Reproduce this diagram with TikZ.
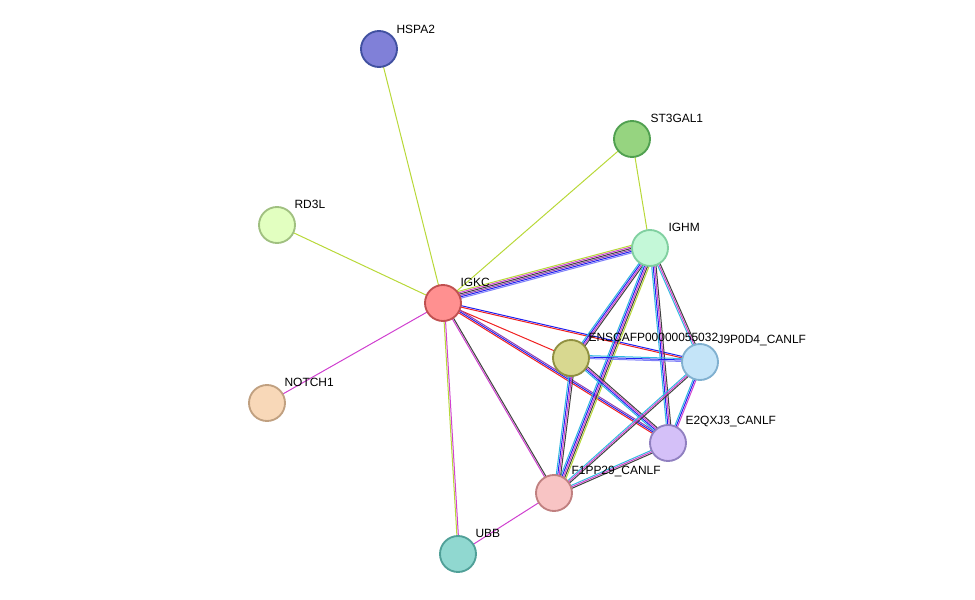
\documentclass[tikz,border=0pt]{standalone}
\usepackage{fontspec}
\setmainfont{Liberation Sans}
\usetikzlibrary{calc}
\definecolor{yg}{HTML}{B8D838}
\definecolor{mg}{HTML}{D040D0}
\definecolor{bl}{HTML}{2020F0}
\definecolor{lb}{HTML}{8080F8}
\definecolor{cy}{HTML}{30B8E0}
\definecolor{rd}{HTML}{F02020}
\definecolor{bk}{HTML}{404040}
\definecolor{pu}{HTML}{9040B0}
\tikzset{prot/.style={circle,minimum size=27bp,inner sep=0,line width=1.4pt},
lbl/.style={font=\fontsize{9}{10}\selectfont,anchor=south west,inner sep=1pt}}
\newcommand\medge[3]{%
 \foreach \c [count=\i] in {#3}{%
  \pgfmathsetmacro\o{(\i-1)*1.1}%
  \draw[\c,line width=0.75pt] ($(#1)!\o pt!90:(#2)$) -- ($(#2)!\o pt!-90:(#1)$);}}
\begin{document}
\begin{tikzpicture}[x=0.75bp,y=-0.75bp]
\useasboundingbox (0,0) rectangle (975,600);
\coordinate (hspa) at (379,49);
\coordinate (st3) at (632,139);
\coordinate (rd3) at (277,225);
\coordinate (ighm) at (650,248);
\coordinate (igkc) at (443,303);
\coordinate (ens) at (571,358);
\coordinate (j9) at (700,362);
\coordinate (notch) at (267,403);
\coordinate (e2) at (668,443);
\coordinate (f1) at (554,493);
\coordinate (ubb) at (458,554);
\medge{hspa}{igkc}{yg}
\medge{st3}{igkc}{yg}
\medge{st3}{ighm}{yg}
\medge{rd3}{igkc}{yg}
\medge{notch}{igkc}{mg}
\medge{igkc}{ubb}{yg,mg}
\medge{ubb}{f1}{mg}
\medge{igkc}{ighm}{lb,bl,pu,bk,mg,yg}
\medge{igkc}{ens}{rd}
\medge{igkc}{j9}{rd,bl}
\medge{igkc}{e2}{rd,bl,pu}
\medge{igkc}{f1}{mg,bk}
\medge{ighm}{ens}{cy,bl,mg,bk}
\medge{ighm}{j9}{cy,mg,bk}
\medge{ighm}{e2}{cy,bl,mg,bk}
\medge{ighm}{f1}{cy,bl,mg,bk,yg}
\medge{ens}{j9}{lb,bl,cy}
\medge{ens}{e2}{cy,bl,mg,bk}
\medge{ens}{f1}{cy,bl,mg,bk}
\medge{j9}{e2}{cy,bl,mg}
\medge{j9}{f1}{cy,mg,bk}
\medge{e2}{f1}{cy,mg,bk}
\node[prot,fill={rgb,255:red,128;green,128;blue,216},draw={rgb,255:red,64;green,80;blue,160}] (n1) at (hspa) {};
\node[prot,fill={rgb,255:red,150;green,212;blue,128},draw={rgb,255:red,80;green,160;blue,80}] (n2) at (st3) {};
\node[prot,fill={rgb,255:red,226;green,255;blue,192},draw={rgb,255:red,160;green,192;blue,128}] (n3) at (rd3) {};
\node[prot,fill={rgb,255:red,196;green,248;blue,216},draw={rgb,255:red,128;green,208;blue,160}] (n4) at (ighm) {};
\node[prot,fill={rgb,255:red,255;green,144;blue,144},draw={rgb,255:red,192;green,80;blue,80}] (n5) at (igkc) {};
\node[prot,fill={rgb,255:red,216;green,216;blue,144},draw={rgb,255:red,144;green,144;blue,64}] (n6) at (ens) {};
\node[prot,fill={rgb,255:red,196;green,228;blue,248},draw={rgb,255:red,128;green,176;blue,208}] (n7) at (j9) {};
\node[prot,fill={rgb,255:red,248;green,216;blue,184},draw={rgb,255:red,192;green,160;blue,128}] (n8) at (notch) {};
\node[prot,fill={rgb,255:red,212;green,192;blue,248},draw={rgb,255:red,144;green,128;blue,192}] (n9) at (e2) {};
\node[prot,fill={rgb,255:red,248;green,196;blue,196},draw={rgb,255:red,192;green,128;blue,128}] (n10) at (f1) {};
\node[prot,fill={rgb,255:red,144;green,216;blue,208},draw={rgb,255:red,80;green,160;blue,152}] (n11) at (ubb) {};
\node[lbl] at (395,35) {HSPA2};
\node[lbl] at (649,124) {ST3GAL1};
\node[lbl] at (293,210) {RD3L};
\node[lbl] at (667,233) {IGHM};
\node[lbl] at (459,288) {IGKC};
\node[lbl] at (587,343) {ENSCAFP00000055032};
\node[lbl] at (716,347) {J9P0D4\_CANLF};
\node[lbl] at (283,388) {NOTCH1};
\node[lbl] at (684,428) {E2QXJ3\_CANLF};
\node[lbl] at (570,478) {F1PP29\_CANLF};
\node[lbl] at (474,539) {UBB};
\end{tikzpicture}
\end{document}
